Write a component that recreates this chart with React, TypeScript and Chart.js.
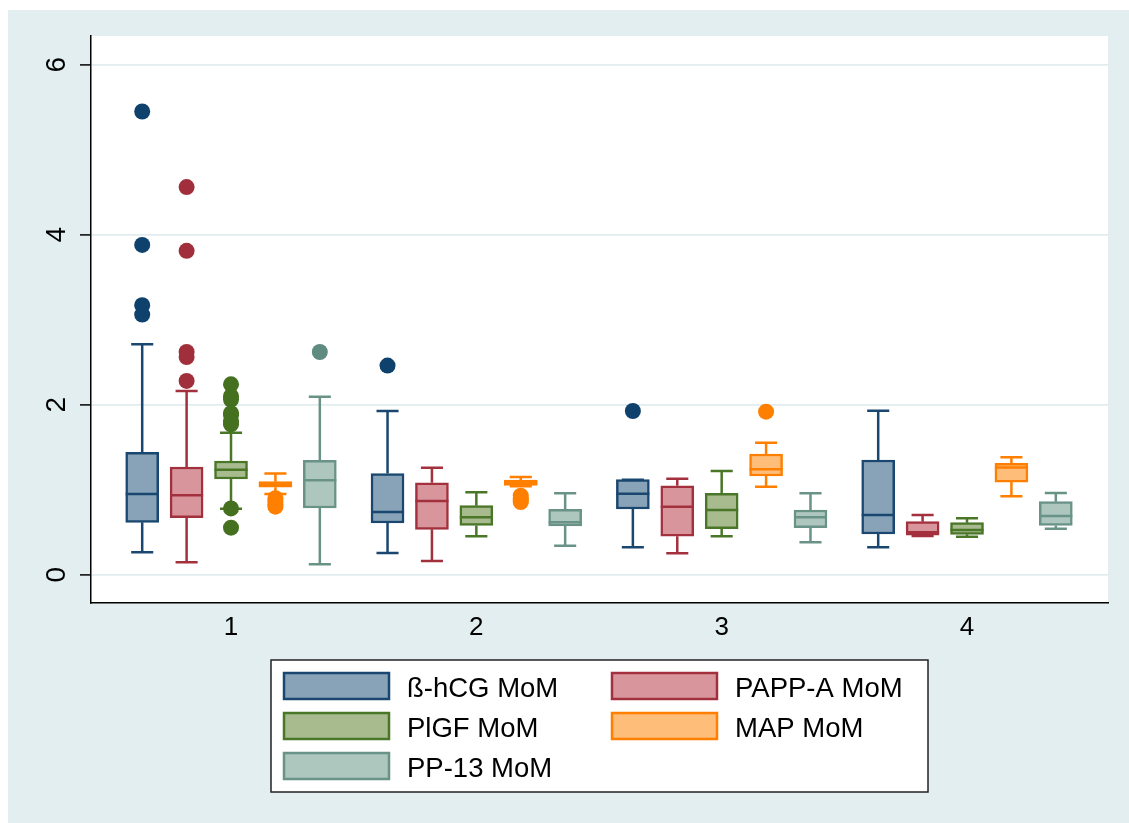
import React, { useEffect, useRef } from "react";
import { Chart, registerables } from "chart.js";

Chart.register(...registerables);

// ---------- data ----------
const groups = [1, 2, 3, 4];
const groupLabels = ["1", "2", "3", "4"];
const yTicks = [0, 2, 4, 6];
const seriesNames = ["ß-hCG MoM", "PAPP-A MoM", "PlGF MoM", "MAP MoM", "PP-13 MoM"];
const seriesOffsets = [-0.362, -0.181, 0, 0.181, 0.362];
const lineColors = ["#1a476f", "#a3313d", "#4a7628", "#ff7f00", "#6a9388"];
const fillColors = ["#88a2b8", "#d8969c", "#a7bb8f", "#ffbd7a", "#adc6be"];
const dotColors = ["#0f416d", "#a12f3b", "#44701f", "#ff7f00", "#5f8b80"];

// per group: [lower whisker, q1, median, q3, upper whisker]
const hcgStats = [
  [0.263, 0.616, 0.95, 1.44, 2.71],
  [0.255, 0.608, 0.738, 1.19, 1.926],
  [0.322, 0.773, 0.953, 1.118, 1.118],
  [0.322, 0.479, 0.702, 1.349, 1.93],
];
const pappStats = [
  [0.146, 0.67, 0.934, 1.267, 2.16],
  [0.161, 0.534, 0.867, 1.082, 1.259],
  [0.251, 0.452, 0.8, 1.047, 1.13],
  [0.455, 0.465, 0.5, 0.624, 0.702],
];
const plgfStats = [
  [0.777, 1.126, 1.235, 1.338, 1.67],
  [0.451, 0.58, 0.675, 0.812, 0.969],
  [0.452, 0.541, 0.761, 0.957, 1.22],
  [0.447, 0.475, 0.526, 0.612, 0.663],
];
const mapStats = [
  [0.95, 1.03, 1.06, 1.095, 1.19],
  [1.04, 1.05, 1.08, 1.114, 1.149],
  [1.035, 1.161, 1.24, 1.42, 1.553],
  [0.922, 1.09, 1.26, 1.31, 1.381],
];
const pp13Stats = [
  [0.122, 0.785, 1.11, 1.345, 2.094],
  [0.341, 0.573, 0.616, 0.769, 0.957],
  [0.381, 0.553, 0.675, 0.761, 0.957],
  [0.54, 0.58, 0.69, 0.859, 0.961],
];

// outliers per group
const hcgOutliers = [[5.45, 3.88, 3.17, 3.06], [2.46], [1.926], []];
const pappOutliers = [[4.56, 3.81, 2.62, 2.56, 2.28], [], [], []];
const plgfOutliers = [[2.24, 2.1, 2.06, 1.9, 1.88, 1.8, 1.77, 0.78, 0.553], [], [], []];
const mapOutliers = [[0.9, 0.86, 0.83, 0.8], [0.93, 0.9, 0.87, 0.855], [1.918], []];
const pp13Outliers = [[2.62], [], [], []];

const allStats = [hcgStats, pappStats, plgfStats, mapStats, pp13Stats];
const allOutliers = [hcgOutliers, pappOutliers, plgfOutliers, mapOutliers, pp13Outliers];

// ---------- layout constants ----------
const W = 1121;
const H = 813;
const BOX_PX = 33;
const BOX_HALF = 0.0673; // in x units
const CAP_HALF = 0.045;
const FONT = "'Liberation Sans', Arial, Helvetica, sans-serif";

function buildDatasets() {
  const ds: any[] = [];
  allStats.forEach((stats, s) => {
    ds.push({
      type: "bar",
      label: seriesNames[s],
      data: groups.map((g, i) => ({ x: g + seriesOffsets[s], y: [stats[i][1], stats[i][3]] })),
      backgroundColor: fillColors[s],
      borderColor: lineColors[s],
      borderWidth: 2.5,
      borderSkipped: false,
      barThickness: BOX_PX,
      grouped: false,
      order: 3,
    });
  });
  allStats.forEach((stats, s) => {
    const pts: any[] = [];
    groups.forEach((g, i) => {
      const xc = g + seriesOffsets[s];
      const [lo, q1, med, q3, hi] = stats[i];
      pts.push({ x: xc, y: lo }, { x: xc, y: q1 }, { x: xc, y: null });
      pts.push({ x: xc, y: q3 }, { x: xc, y: hi }, { x: xc, y: null });
      pts.push({ x: xc - CAP_HALF, y: lo }, { x: xc + CAP_HALF, y: lo }, { x: xc, y: null });
      pts.push({ x: xc - CAP_HALF, y: hi }, { x: xc + CAP_HALF, y: hi }, { x: xc, y: null });
      pts.push({ x: xc - BOX_HALF, y: med }, { x: xc + BOX_HALF, y: med }, { x: xc, y: null });
    });
    ds.push({
      type: "line",
      label: seriesNames[s] + " whiskers",
      data: pts,
      borderColor: lineColors[s],
      borderWidth: 2.5,
      pointRadius: 0,
      spanGaps: false,
      fill: false,
      tension: 0,
      order: 2,
    });
  });
  allOutliers.forEach((outs, s) => {
    const pts: any[] = [];
    groups.forEach((g, i) => {
      outs[i].forEach((v) => pts.push({ x: g + seriesOffsets[s], y: v }));
    });
    ds.push({
      type: "scatter",
      label: seriesNames[s] + " outliers",
      data: pts,
      backgroundColor: dotColors[s],
      borderWidth: 0,
      pointRadius: 8,
      order: 1,
    });
  });
  return ds;
}

const decorPlugin = {
  id: "decor",
  beforeDraw(chart: any) {
    const { ctx, chartArea } = chart;
    ctx.save();
    ctx.fillStyle = "#e2eeef";
    ctx.fillRect(0, 0, chart.width, chart.height);
    ctx.fillStyle = "#ffffff";
    ctx.fillRect(chartArea.left, chartArea.top, chartArea.right - chartArea.left, chartArea.bottom - chartArea.top);
    ctx.restore();
  },
  afterDraw(chart: any) {
    const { ctx } = chart;
    const y = chart.scales.y;
    ctx.save();
    // rotated y tick labels
    ctx.fillStyle = "#000";
    ctx.font = `28px ${FONT}`;
    ctx.textAlign = "center";
    ctx.textBaseline = "middle";
    yTicks.forEach((t) => {
      const py = y.getPixelForValue(t);
      ctx.save();
      ctx.translate(49.6, py);
      ctx.rotate(-Math.PI / 2);
      ctx.fillText(String(t), 0, 0);
      ctx.restore();
    });
    // legend
    const lx = 263, ly = 650, lw = 657, lh = 132;
    ctx.fillStyle = "#ffffff";
    ctx.fillRect(lx, ly, lw, lh);
    ctx.strokeStyle = "#222";
    ctx.lineWidth = 1.5;
    ctx.strokeRect(lx, ly, lw, lh);
    const colX = [275, 603];
    const rowY = [676, 716, 756];
    seriesNames.forEach((name, s) => {
      const col = s % 2;
      const row = Math.floor(s / 2);
      const sx = colX[col];
      const cy = rowY[row];
      ctx.fillStyle = fillColors[s];
      ctx.fillRect(sx, cy - 14, 107, 28);
      ctx.strokeStyle = lineColors[s];
      ctx.lineWidth = 2.5;
      ctx.strokeRect(sx + 1, cy - 13, 105, 26);
      ctx.fillStyle = "#000";
      ctx.font = `27.5px ${FONT}`;
      ctx.textAlign = "left";
      ctx.textBaseline = "alphabetic";
      ctx.fillText(name, sx + 124, cy + 10.5);
    });
    ctx.restore();
  },
};

export default function App() {
  const ref = useRef<HTMLCanvasElement | null>(null);
  useEffect(() => {
    if (!ref.current) return;
    const chart = new Chart(ref.current, {
      type: "bar",
      data: { datasets: buildDatasets() },
      options: {
        animation: false,
        responsive: false,
        devicePixelRatio: 1,
        layout: { padding: { top: 26, right: 21, left: 0, bottom: 0 } },
        plugins: { legend: { display: false }, tooltip: { enabled: false } },
        scales: {
          x: {
            type: "linear",
            min: 0.4293,
            max: 4.5747,
            offset: false,
            afterBuildTicks: (s: any) => {
              s.ticks = groups.map((g) => ({ value: g }));
            },
            afterFit: (s: any) => {
              s.height = 220;
            },
            ticks: {
              color: "#000",
              font: { size: 26, family: FONT },
              padding: 9,
              maxRotation: 0,
              autoSkip: false,
              callback: (v: any) => groupLabels[groups.indexOf(Number(v))] ?? "",
            },
            grid: { display: false, drawTicks: false },
            border: { display: true, color: "#000", width: 1.5 },
          },
          y: {
            type: "linear",
            min: -0.333,
            max: 6.338,
            afterBuildTicks: (s: any) => {
              s.ticks = yTicks.map((t) => ({ value: t }));
            },
            afterFit: (s: any) => {
              s.width = 83;
            },
            ticks: { display: false },
            grid: {
              display: true,
              color: "#e2ecee",
              lineWidth: 1.8,
              drawTicks: true,
              tickLength: 11,
              tickColor: "#000",
              tickWidth: 1.5,
            },
            border: { display: true, color: "#000", width: 1.5 },
          },
        },
      },
      plugins: [decorPlugin],
    } as any);
    return () => chart.destroy();
  }, []);
  return (
    <div style={{ position: "fixed", left: 8, top: 10, width: W, height: H }}>
      <canvas ref={ref} width={W} height={H} style={{ width: W, height: H, display: "block" }} />
    </div>
  );
}
